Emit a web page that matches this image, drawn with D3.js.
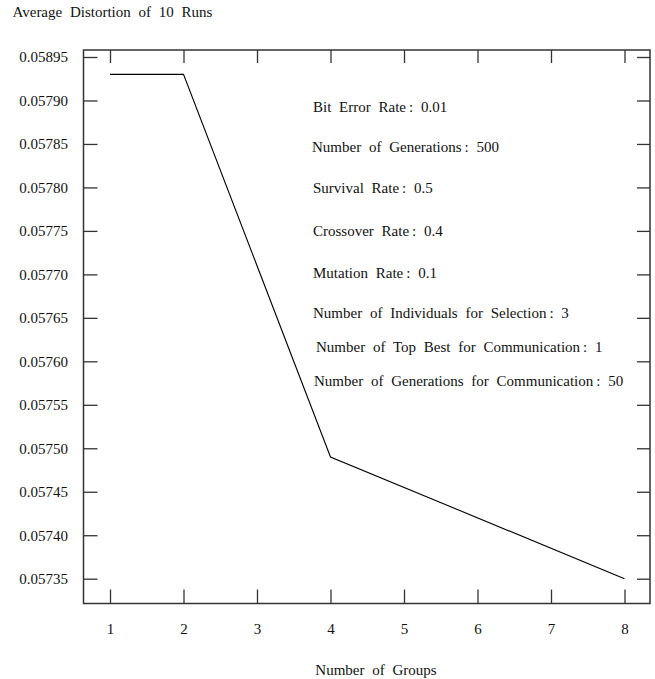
<!DOCTYPE html>
<html>
<head>
<meta charset="utf-8">
<script src="https://cdn.jsdelivr.net/npm/d3@7"></script>
<style>
  body { margin: 0; background: #fff; }
  text { font-family: "Liberation Serif", "DejaVu Serif", serif; fill: #111; }
</style>
</head>
<body>
<svg id="chart" width="655" height="679"></svg>
<script>
const groups = [1, 2, 4, 8]
const distortion = [0.05793, 0.05793, 0.057490, 0.05735]

const xTicks = [1, 2, 3, 4, 5, 6, 7, 8]
const yTicks = [0.05795, 0.05790, 0.05785, 0.05780, 0.05775, 0.05770, 0.05765,
  0.05760, 0.05755, 0.05750, 0.05745, 0.05740, 0.05735]
// top label is printed as 0.05895 in the original figure
const yTickLabels = ['0.05895', '0.05790', '0.05785', '0.05780', '0.05775', '0.05770', '0.05765',
  '0.05760', '0.05755', '0.05750', '0.05745', '0.05740', '0.05735']

const notes = [
  'Bit Error Rate\u2009: 0.01',
  'Number of Generations\u2009: 500',
  'Survival Rate\u2009: 0.5',
  'Crossover Rate\u2009: 0.4',
  'Mutation Rate\u2009: 0.1',
  'Number of Individuals for Selection\u2009: 3',
  'Number of Top Best for Communication\u2009: 1',
  'Number of Generations for Communication\u2009: 50',
]

const frame = { left: 83.5, right: 650, top: 50, bottom: 603.5 }
const fontSize = 15
const wordGap = '4px'

const svg = d3.select('#chart')
svg.append('rect').attr('width', 655).attr('height', 679).attr('fill', '#fff')

const x = d3.scaleLinear().domain([1, 8]).range([110, 624.5])
const y = d3.scaleLinear().domain([0.05735, 0.05795]).range([578.7, 57])

const styleAxis = (g) => {
  g.select('.domain').remove()
  g.selectAll('.tick line').attr('stroke', '#333').attr('stroke-width', 1.3)
  g.selectAll('.tick text')
    .style('font-size', fontSize + 'px')
    .style('font-family', '"Liberation Serif", serif')
    .attr('fill', '#111')
}

// left axis with labels
svg.append('g')
  .attr('transform', `translate(${frame.left},0)`)
  .call(d3.axisLeft(y).tickValues(yTicks).tickSizeInner(-14).tickSizeOuter(0).tickPadding(15.5)
    .tickFormat((d, i) => yTickLabels[i]))
  .call(styleAxis)

// right axis, ticks only
svg.append('g')
  .attr('transform', `translate(${frame.right},0)`)
  .call(d3.axisRight(y).tickValues(yTicks).tickSizeInner(-13).tickSizeOuter(0).tickFormat(''))
  .call(styleAxis)

// bottom axis with labels
svg.append('g')
  .attr('transform', `translate(0,${frame.bottom})`)
  .call(d3.axisBottom(x).tickValues(xTicks).tickSizeInner(-14).tickSizeOuter(0).tickPadding(20)
    .tickFormat(d3.format('d')))
  .call(styleAxis)

// top axis, ticks only
svg.append('g')
  .attr('transform', `translate(0,${frame.top})`)
  .call(d3.axisTop(x).tickValues(xTicks).tickSizeInner(-13).tickSizeOuter(0).tickFormat(''))
  .call(styleAxis)

// frame
svg.append('rect')
  .attr('x', frame.left).attr('y', frame.top)
  .attr('width', frame.right - frame.left).attr('height', frame.bottom - frame.top)
  .attr('fill', 'none').attr('stroke', '#333').attr('stroke-width', 1.5)

// data line
const line = d3.line().x((d) => x(d[0])).y((d) => y(d[1]))
svg.append('path')
  .datum(groups.map((g, i) => [g, distortion[i]]))
  .attr('d', line)
  .attr('fill', 'none')
  .attr('stroke', '#000')
  .attr('stroke-width', 1.1)

// parameter notes
const noteY = [112, 152, 193, 236, 278, 318, 352, 386]
const noteX = [313, 312, 313, 313, 313, 313, 316, 314]
svg.append('g').selectAll('text')
  .data(notes)
  .join('text')
  .attr('x', (d, i) => noteX[i])
  .attr('y', (d, i) => noteY[i])
  .style('font-size', fontSize + 'px')
  .style('word-spacing', wordGap)
  .text((d) => d)

// titles
svg.append('text')
  .attr('x', 12.5).attr('y', 17)
  .style('font-size', fontSize + 'px')
  .style('word-spacing', wordGap)
  .text('Average Distortion of 10 Runs')

svg.append('text')
  .attr('x', 376).attr('y', 675)
  .attr('text-anchor', 'middle')
  .style('font-size', fontSize + 'px')
  .style('word-spacing', wordGap)
  .text('Number of Groups')
</script>
</body>
</html>
